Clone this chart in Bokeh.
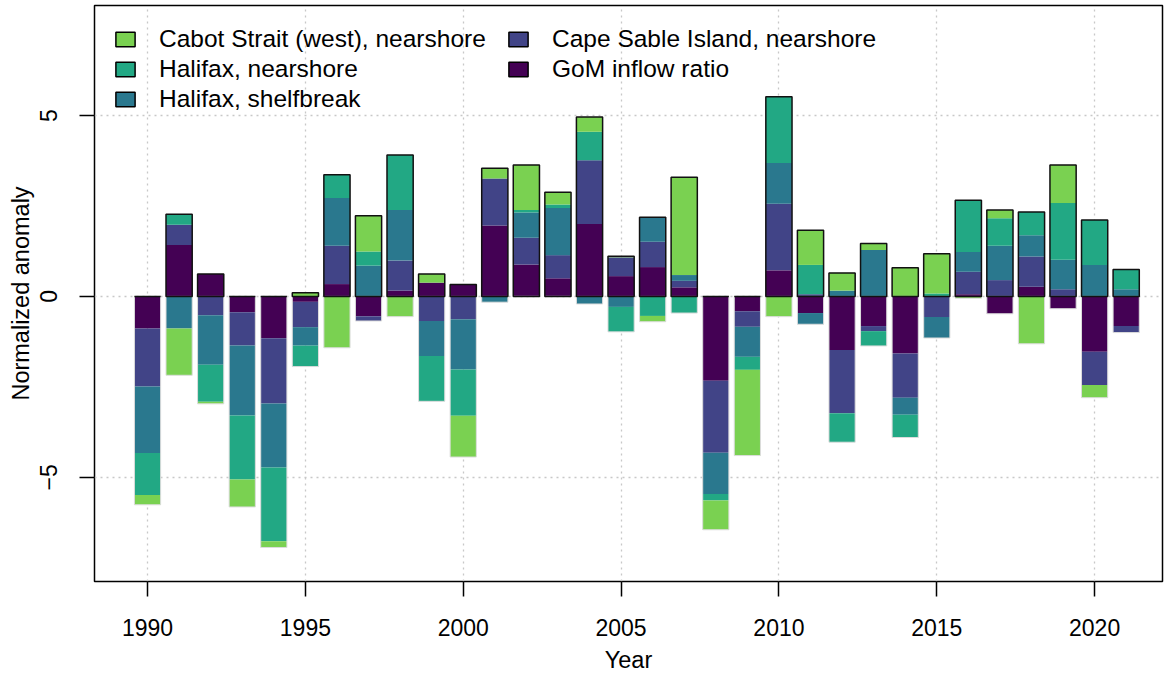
from bokeh.plotting import figure
from bokeh.models import (ColumnDataSource, Range1d, FixedTicker, Legend, LegendItem)
from bokeh.embed import file_html
from bokeh.resources import INLINE

years = list(range(1990, 2022))

series_names = ["GoM inflow ratio", "Cape Sable Island, nearshore",
                "Halifax, shelfbreak", "Halifax, nearshore",
                "Cabot Strait (west), nearshore"]
series_colors = ["#440154", "#414487", "#2A788E", "#22A884", "#7AD151"]

gom = [-0.89, 1.42, 0.62, -0.44, -1.16, -0.15, 0.34, -0.55, 0.16, 0.38, 0.33,
       1.96, 0.88, 0.50, 2.00, 0.56, 0.81, 0.25, -2.33, -0.41, 0.72,
       -0.46, -1.48, -0.82, -1.58, 0.00, 0.06, -0.48, 0.27, -0.34, -1.53, -0.82]
csi = [-1.60, 0.56, -0.52, -0.92, -1.80, -0.70, 1.06, -0.13, 0.83, -0.68, -0.63,
       1.30, 0.74, 0.64, 1.76, 0.52, 0.70, 0.18, -1.99, -0.43, 1.84,
       0.06, -1.75, -0.14, -1.22, -0.57, 0.62, 0.45, 0.83, 0.20, -0.92, -0.18]
hsb = [-1.84, -0.89, -1.37, -1.93, -1.77, -0.51, 1.32, 0.85, 1.40, -0.97, -1.39,
       -0.16, 0.70, 1.30, -0.21, -0.29, 0.68, 0.16, -1.14, -0.83, 1.13,
       -0.31, 0.16, 1.28, -0.47, -0.58, 0.55, 0.95, 0.59, 0.81, 0.87, 0.20]
hns = [-1.16, 0.29, -1.02, -1.77, -2.04, -0.58, 0.64, 0.39, 1.52, -1.25, -1.28,
       0.00, 0.07, 0.10, 0.79, -0.69, -0.54, -0.46, -0.18, -0.36, 1.83,
       0.81, -0.80, -0.41, -0.63, 0.08, 1.43, 0.76, 0.64, 1.57, 1.24, 0.54]
cabot = [-0.27, -1.29, -0.06, -0.76, -0.17, 0.10, -1.42, 0.99, -0.56, 0.24, -1.14,
         0.28, 1.24, 0.34, 0.41, 0.03, -0.16, 2.70, -0.81, -2.37, -0.56,
         0.96, 0.49, 0.18, 0.79, 1.10, -0.05, 0.23, -1.31, 1.05, -0.35, 0.00]

x_ticks = [1990, 1995, 2000, 2005, 2010, 2015, 2020]
y_ticks = [-5, 0, 5]

FONT = "Liberation Sans"
BAR_W = 0.83

p = figure(width=1170, height=675, output_backend="svg", toolbar_location=None,
           x_range=Range1d(1988.32, 2022.15), y_range=Range1d(-7.88, 8.04),
           min_border_left=94, min_border_right=8, min_border_top=5,
           min_border_bottom=94)
p.background_fill_color = "white"
p.border_fill_color = "white"
p.outline_line_color = "black"
p.outline_line_width = 1.5

# grid
for g, t in ((p.xgrid, x_ticks), (p.ygrid, y_ticks)):
    g.ticker = FixedTicker(ticks=t)
    g.grid_line_color = "#c8c8c8"
    g.grid_line_dash = "2 4"
    g.grid_line_width = 1.3

# stacked bars (positives and negatives stacked separately)
pos_base = [0.0] * len(years)
neg_base = [0.0] * len(years)
for vals, col in zip([gom, csi, hsb, hns, cabot], series_colors):
    tops, bots = [], []
    for i, v in enumerate(vals):
        if v >= 0:
            bots.append(pos_base[i]); tops.append(pos_base[i] + v)
            pos_base[i] += v
        else:
            tops.append(neg_base[i]); bots.append(neg_base[i] + v)
            neg_base[i] += v
    src = ColumnDataSource(dict(x=years, top=tops, bottom=bots))
    p.vbar(x="x", top="top", bottom="bottom", width=BAR_W, source=src,
           fill_color=col, line_color=None)

# outlines
p.vbar(x=years, top=[0.0] * len(years), bottom=neg_base, width=BAR_W,
       fill_color=None, line_color="#dcdcdc", line_width=1)
p.vbar(x=years, top=pos_base, bottom=[0.0] * len(years), width=BAR_W,
       fill_color=None, line_color="#111111", line_width=1.5)

# legend (hidden key renderers, zero-height)
dummies = {}
for name, col in zip(series_names, series_colors):
    dummies[name] = p.vbar(x=years[:1], top=[0.0], bottom=[0.0], width=BAR_W,
                           fill_color=col, line_color="black", line_width=1.5,
                           visible=False)
legend_order = ["Cabot Strait (west), nearshore", "Halifax, nearshore",
                "Halifax, shelfbreak", "Cape Sable Island, nearshore",
                "GoM inflow ratio"]
legend = Legend(items=[LegendItem(label=n, renderers=[dummies[n]]) for n in legend_order],
                location="top_left", orientation="vertical", nrows=3,
                border_line_color=None, background_fill_alpha=0,
                title=" ", title_text_font_size="1px", title_standoff=0,
                label_text_font=FONT, label_text_font_size="24.5px",
                label_text_color="black",
                glyph_width=24, glyph_height=18, label_standoff=22,
                spacing=2, padding=14, margin=19, label_width=345, label_height=26)
p.add_layout(legend)

# axes
for ax in (p.xaxis, p.yaxis):
    ax.axis_line_color = None
    ax.major_tick_line_color = "black"
    ax.major_tick_line_width = 1.5
    ax.major_tick_out = 15
    ax.major_tick_in = 0
    ax.minor_tick_line_color = None
    ax.major_label_text_font = FONT
    ax.major_label_text_font_size = "23px"
    ax.major_label_text_color = "black"
    ax.axis_label_text_font = FONT
    ax.axis_label_text_font_size = "23.5px"
    ax.axis_label_text_font_style = "normal"
    ax.axis_label_text_color = "black"

p.xaxis.ticker = FixedTicker(ticks=x_ticks)
p.yaxis.ticker = FixedTicker(ticks=y_ticks)
p.xaxis.axis_label = "Year"
p.yaxis.axis_label = "Normalized anomaly"
p.xaxis.major_label_standoff = 22
p.xaxis.axis_label_standoff = 8
p.yaxis.major_label_orientation = "parallel"
p.yaxis.major_label_standoff = 22
p.yaxis.axis_label_standoff = 4

open("out.html", "w").write(file_html(p, INLINE))
